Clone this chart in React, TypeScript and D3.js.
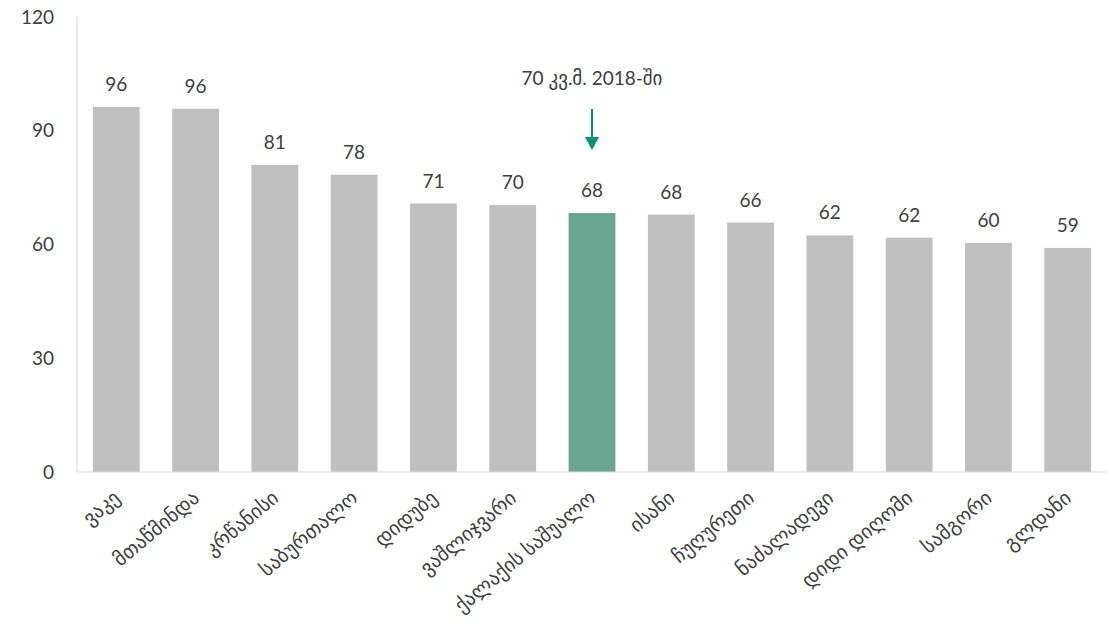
import * as d3 from "d3";

// districts, ordered as in the chart
const districts = [
  "ვაკე",
  "მთაწმინდა",
  "კრწანისი",
  "საბურთალო",
  "დიდუბე",
  "ვაშლიჯვარი",
  "ქალაქის საშუალო",
  "ისანი",
  "ჩუღურეთი",
  "ნაძალადევი",
  "დიდი დიღომი",
  "სამგორი",
  "გლდანი",
];
const values = [96.3, 95.8, 81, 78.4, 70.8, 70.4, 68.3, 67.9, 65.8, 62.4, 61.8, 60.4, 59.1];
const highlighted = ["ქალაქის საშუალო"];
const yTicks = [0, 30, 60, 90, 120];
const note = "70 კვ.მ. 2018-ში";

const W = 1117;
const H = 631;
const margin = { top: 17, right: 10, bottom: 159, left: 77 };
const font = "Lato, 'DejaVu Sans', sans-serif";

export default function App() {
  const x = d3
    .scaleBand<string>()
    .domain(districts)
    .range([margin.left, W - margin.right])
    .paddingInner(0.41)
    .paddingOuter(0.2);
  const y = d3
    .scaleLinear()
    .domain([0, 120])
    .range([H - margin.bottom, margin.top]);

  const noteX = x(highlighted[0])! + x.bandwidth() / 2;

  return (
    <svg width={W} height={H} style={{ position: "absolute", left: 0, top: 0 }}>
      <rect width={W} height={H} fill="#fff" />
      {/* y axis */}
      <line x1={margin.left} x2={margin.left} y1={y(120)} y2={y(0)} stroke="#d9d9d9" strokeWidth={1.2} />
      {yTicks.map((t) => (
        <text
          key={t}
          x={54}
          y={y(t)}
          dy="0.35em"
          textAnchor="end"
          fontFamily={font}
          fontSize={19}
          fill="#404040"
        >
          {t}
        </text>
      ))}
      {/* bars */}
      {districts.map((d, i) => {
        const isHi = highlighted.includes(d);
        const cx = x(d)! + x.bandwidth() / 2;
        return (
          <g key={d}>
            <rect
              x={x(d)}
              y={y(values[i])}
              width={x.bandwidth()}
              height={y(0) - y(values[i])}
              fill={isHi ? "#6aa591" : "#bfbfbf"}
            />
            <text
              x={cx}
              y={y(values[i]) - 16}
              textAnchor="middle"
              fontFamily={font}
              fontSize={19}
              fill="#404040"
            >
              {Math.round(values[i])}
            </text>
            <text
              transform={`translate(${cx + 5},${y(0) + 28}) rotate(-40)`}
              textAnchor="end"
              fontFamily={font}
              fontSize={20}
              fill="#404040"
            >
              {d}
            </text>
          </g>
        );
      })}
      {/* baseline */}
      <line x1={margin.left} x2={W - margin.right} y1={y(0)} y2={y(0)} stroke="#d9d9d9" strokeWidth={1.2} />
      {/* annotation */}
      <text x={noteX} y={85} textAnchor="middle" fontFamily={font} fontSize={19} fill="#404040">
        {note}
      </text>
      <line x1={noteX} x2={noteX} y1={109} y2={138} stroke="#00917c" strokeWidth={2} />
      <path d={`M${noteX - 7},137 L${noteX + 7},137 L${noteX},150 Z`} fill="#00917c" />
    </svg>
  );
}
